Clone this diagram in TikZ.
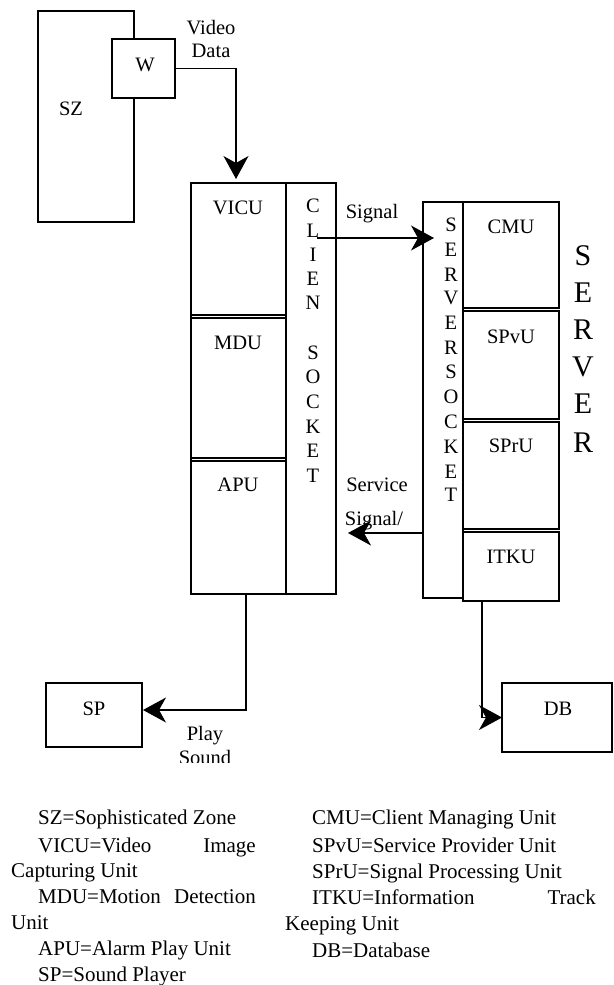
\documentclass[tikz,border=0pt]{standalone}
\usepackage{fontspec}
\setmainfont{Liberation Serif}
\usetikzlibrary{arrows.meta}
\begin{document}
\begin{tikzpicture}[x=1pt,y=-1pt,
  box/.style={draw,line width=1.2pt,inner sep=0pt,outer sep=0pt,fill=white,anchor=north west},
  lbl/.style={font=\fontsize{20.5}{24}\selectfont,inner sep=0pt,anchor=base},
  leg/.style={font=\fontsize{21}{24}\selectfont,inner sep=0pt,anchor=base west},
  legr/.style={font=\fontsize{21}{24}\selectfont,inner sep=0pt,anchor=base east},
  ltr/.style={font=\fontsize{20.5}{24}\selectfont,inner sep=0pt,anchor=center},
  big/.style={font=\fontsize{30}{34}\selectfont,inner sep=0pt,anchor=center},
  ln/.style={line width=1.2pt},
  arr/.style={line width=1.2pt,-{Stealth[length=23pt,width=25pt,inset=7pt]}}]
\useasboundingbox (0,0) rectangle (613,985);

% SZ and W
\node[box,minimum width=96,minimum height=211] (sz) at (38,11) {};
\node[box,minimum width=63,minimum height=59] (w) at (112,39) {};
\node[lbl] (szt) at (71,115) {SZ};
\node[lbl] (wt) at (145,71) {W};
\node[lbl] (video) at (211,34) {Video};
\node[lbl] (data) at (211,57) {Data};

% client block
\node[box,minimum width=145,minimum height=411] (client) at (191,183) {};
\node[box,minimum width=95,minimum height=132] (vicu) at (191,183) {};
\node[box,minimum width=95,minimum height=140] (mdu) at (191,318) {};
\node[box,minimum width=95,minimum height=133] (apu) at (191,461) {};
\node[box,minimum width=50,minimum height=411] (csock) at (286,183) {};
\node[lbl] (vicut) at (238,214) {VICU};
\node[lbl] (mdut) at (238,349) {MDU};
\node[lbl] (aput) at (238,491) {APU};
\foreach \l/\y [count=\i] in {C/206,L/231,I/255,E/279,N/303,S/353,O/377,C/402,K/427,E/451,T/476}
  \node[ltr] (cs\i) at (313,\y) {\l};

% server block
\node[box,minimum width=40,minimum height=396] (ssock) at (423,202) {};
\node[box,minimum width=96,minimum height=106] (cmu) at (463,202) {};
\node[box,minimum width=96,minimum height=108] (spvu) at (463,311) {};
\node[box,minimum width=96,minimum height=107] (spru) at (463,422) {};
\node[box,minimum width=96,minimum height=69] (itku) at (463,532) {};
\node[lbl] (cmut) at (511,233) {CMU};
\node[lbl] (spvut) at (511,343) {SPvU};
\node[lbl] (sprut) at (511,452) {SPrU};
\node[lbl] (itkut) at (511,563) {ITKU};
\foreach \l/\y [count=\i] in {S/225,E/250,R/275,V/298,E/323,R/348,S/372,O/397,C/422,K/447,E/472,T/495}
  \node[ltr] (ss\i) at (451,\y) {\l};
\foreach \l/\y [count=\i] in {S/256,E/293,R/330,V/367,E/404,R/443}
  \node[big] (sv\i) at (583,\y) {\l};

% signals
\node[lbl] (sig) at (372,218) {Signal};
\node[lbl] (serv) at (377,491) {Service};
\node[lbl] (sig2) at (374,525) {Signal/};

% SP and DB
\node[box,minimum width=96,minimum height=64] (sp) at (46,683) {};
\node[box,minimum width=110,minimum height=69] (db) at (502,683) {};
\node[lbl] (spt) at (94,715) {SP};
\node[lbl] (dbt) at (558,715) {DB};
\node[lbl] (play) at (205,740) {Play};
\begin{scope}
  \clip (150,745) rectangle (260,762);
  \node[lbl] (sound) at (205,764) {Sound};
\end{scope}

% connectors
\coordinate (vtop) at (236,179);
\draw[arr] (w.east) -| (vtop);
\coordinate (sigS) at (317,238);
\coordinate (sigE) at (434,238);
\draw[arr] (sigS) -- (sigE);
\coordinate (srvS) at (423,533);
\coordinate (srvE) at (348,533);
\draw[arr] (srvS) -- (srvE);
\coordinate (apuO) at (246,594);
\coordinate (spIn) at (143,710);
\draw[arr] (apuO) |- (spIn);
\coordinate (itO) at (482,601);
\draw[arr] (itO) |- (db.west);

% legend
\node[leg] (l1) at (38,824) {SZ=Sophisticated Zone};
\node[leg] (l2) at (38,852) {VICU=Video};
\node[legr] (l2b) at (256,852) {Image};
\node[leg] (l3) at (11,877) {Capturing Unit};
\node[leg] (l4) at (38,903) {MDU=Motion};
\node[legr] (l4b) at (256,903) {Detection};
\node[leg] (l5) at (11,929) {Unit};
\node[leg] (l6) at (38,955) {APU=Alarm Play Unit};
\node[leg] (l7) at (38,981) {SP=Sound Player};
\node[leg] (r1) at (312,824) {CMU=Client Managing Unit};
\node[leg] (r2) at (312,852) {SPvU=Service Provider Unit};
\node[leg] (r3) at (312,878) {SPrU=Signal Processing Unit};
\node[leg] (r4) at (312,904) {ITKU=Information};
\node[legr] (r4b) at (596,904) {Track};
\node[leg] (r5) at (285,930) {Keeping Unit};
\node[leg] (r6) at (312,957) {DB=Database};
\end{tikzpicture}
\end{document}
